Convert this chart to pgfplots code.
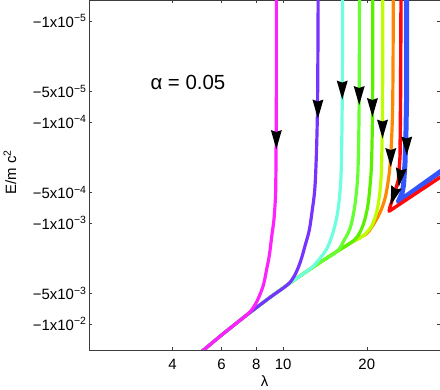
\documentclass[border=0pt]{standalone}
\usepackage{fontspec}
\setmainfont{Liberation Sans}
\usepackage{pgfplots}
\pgfplotsset{compat=1.18}

\definecolor{cmag}{RGB}{255,34,255}
\definecolor{cpur}{RGB}{119,51,255}
\definecolor{caqu}{RGB}{110,255,222}
\definecolor{cgr1}{RGB}{102,255,51}
\definecolor{cgr2}{RGB}{90,240,0}
\definecolor{cyel}{RGB}{190,255,0}
\definecolor{cora}{RGB}{255,136,0}
\definecolor{cred}{RGB}{255,10,10}
\definecolor{cblu}{RGB}{51,85,255}
\definecolor{frame}{RGB}{60,60,60}

% downward arrow head, origin in the middle
\pgfdeclareplotmark{darrow}{%
  \pgfpathmoveto{\pgfqpoint{0bp}{-9.5bp}}%
  \pgfpathlineto{\pgfqpoint{-5.5bp}{9.5bp}}%
  \pgfpathlineto{\pgfqpoint{0bp}{7.5bp}}%
  \pgfpathlineto{\pgfqpoint{5.5bp}{9.5bp}}%
  \pgfpathclose\pgfusepathqfill}

\begin{document}
\begin{tikzpicture}
\begin{axis}[
    scale only axis,
    width=351bp, height=350bp,
    xmode=log, ymode=log, y dir=reverse,
    xmin=2, xmax=36.7,
    ymin=6.19e-6, ymax=1.81e-2,
    xtick={4,6,8,10,20},
    xticklabels={4,6,8,10,20},
    ytick={1e-5,5e-5,1e-4,5e-4,1e-3,5e-3,1e-2},
    yticklabels={−1x10\textsuperscript{−5},−5x10\textsuperscript{−5},−1x10\textsuperscript{−4},
                 −5x10\textsuperscript{−4},−1x10\textsuperscript{−3},−5x10\textsuperscript{−3},
                 −1x10\textsuperscript{−2}},
    xminorticks=false, yminorticks=false,
    tick align=inside,
    major tick length=3bp,
    axis line style={frame, line width=0.6pt},
    every tick/.style={frame, line width=0.5pt},
    tick label style={font=\fontsize{15}{17}\selectfont, black},
    yticklabel style={xshift=1bp},
    xticklabel style={yshift=-6bp},
    every axis plot/.append style={line join=round, line cap=round},
]

% blue
\addplot[cblu, line width=5pt] coordinates {
    (27.85,5e-6) (27.81,6.055e-5) (27.69,1.2e-4) (27.46,2.545e-4)
    (27.13,4.205e-4) (26.80,5.047e-4) (25.98,6.153e-4)
    (36.68,3.126e-4) (38,2.92e-4)
};
% red
\addplot[cred, line width=3.4pt] coordinates {
    (26.57,5e-6) (26.46,6.055e-5) (26.35,2.206e-4) (25.98,3.752e-4)
    (25.27,4.898e-4) (24.26,6.897e-4) (24.06,7.65e-4) (38,3.32e-4)
};
% orange
\addplot[cora, line width=3.2pt, smooth, tension=0.55] coordinates {
    (24.93,5e-6) (24.87,2.432e-5) (24.77,7.607e-5) (24.56,1.507e-4)
    (24.26,2.665e-4) (23.86,3.927e-4) (23.28,5.657e-4) (22.52,7.436e-4)
    (21.61,9.339e-4) (20.73,1.121e-3) (19.89,1.285e-3) (17.72,1.542e-3)
    (15.65,1.906e-3) (13.60,2.449e-3) (11.82,3.177e-3) (10.35,4.101e-3)
    (8.99,5.428e-3) (7.75,7.385e-3) (6.85,9.62e-3) (6.00,1.288e-2) (4.9,2.05e-2)
};
% yellow green
\addplot[cyel, line width=3.2pt, smooth, tension=0.55] coordinates {
    (22.84,5e-6) (22.80,6.055e-5) (22.61,2.665e-4) (22.34,4.713e-4)
    (21.79,7.436e-4) (20.90,1.047e-3) (19.89,1.256e-3) (18.93,1.408e-3)
    (17.72,1.542e-3) (15.65,1.906e-3) (13.60,2.449e-3) (11.82,3.177e-3)
    (10.35,4.101e-3) (8.99,5.428e-3) (7.75,7.385e-3) (6.85,9.62e-3)
    (6.00,1.288e-2) (4.9,2.05e-2)
};
% green 2
\addplot[cgr2, line width=3.2pt, smooth, tension=0.55] coordinates {
    (21.02,5e-6) (20.99,6.055e-5) (20.82,2.378e-4) (20.56,4.205e-4)
    (20.14,6.945e-4) (19.41,1.047e-3) (18.46,1.376e-3) (17.43,1.585e-3)
    (15.65,1.906e-3) (13.60,2.449e-3) (11.82,3.177e-3) (10.35,4.101e-3)
    (8.99,5.428e-3) (7.75,7.385e-3) (6.85,9.62e-3) (6.00,1.288e-2) (4.9,2.05e-2)
};
% green 1
\addplot[cgr1, line width=3.2pt, smooth, tension=0.55] coordinates {
    (18.82,5e-6) (18.78,6.055e-5) (18.62,2.665e-4) (18.39,4.713e-4)
    (18.01,7.436e-4) (17.43,1.121e-3) (16.59,1.474e-3) (15.65,1.906e-3)
    (13.60,2.449e-3) (11.82,3.177e-3) (10.35,4.101e-3) (8.99,5.428e-3)
    (7.75,7.385e-3) (6.85,9.62e-3) (6.00,1.288e-2) (4.9,2.05e-2)
};
% aquamarine
\addplot[caqu, line width=3.2pt, smooth, tension=0.55] coordinates {
    (16.36,5e-6) (16.32,6.055e-5) (16.18,2.987e-4) (15.98,5.283e-4)
    (15.65,8.333e-4) (15.14,1.228e-3) (14.41,1.768e-3) (13.60,2.221e-3)
    (12.73,2.727e-3) (11.82,3.177e-3) (10.35,4.101e-3) (8.99,5.428e-3)
    (7.75,7.385e-3) (6.85,9.62e-3) (6.00,1.288e-2) (4.9,2.05e-2)
};
% purple
\addplot[cpur, line width=3.2pt, smooth, tension=0.55] coordinates {
    (13.37,5e-6) (13.32,3.839e-5) (13.27,9.554e-5) (13.15,2.378e-4)
    (12.99,4.713e-4) (12.73,7.436e-4) (12.42,1.173e-3) (12.01,1.651e-3)
    (11.53,2.432e-3) (10.97,3.348e-3) (10.35,4.101e-3) (8.99,5.428e-3)
    (7.75,7.385e-3) (6.85,9.62e-3) (6.00,1.288e-2) (4.9,2.05e-2)
};
% magenta
\addplot[cmag, line width=3.2pt, smooth, tension=0.55] coordinates {
    (9.45,5e-6) (9.45,6.055e-5) (9.41,3.752e-4) (9.37,5.921e-4)
    (9.26,9.339e-4) (9.11,1.315e-3) (8.92,2.074e-3) (8.74,2.79e-3)
    (8.49,4.111e-3) (8.15,5.527e-3) (7.92,6.45e-3) (7.56,7.69e-3)
    (6.85,9.62e-3) (6.00,1.288e-2) (4.9,2.05e-2)
};

% arrow heads
\addplot[only marks, mark=darrow, black] coordinates {
    (9.45,1.491e-4) (13.34,7.435e-5) (16.32,4.822e-5) (18.78,5.465e-5)
    (20.96,7.186e-5) (22.79,1.173e-4) (24.40,2.246e-4) (27.85,1.728e-4)
};
\addplot[only marks, mark=darrow, black, mark options={rotate=-8}] coordinates {
    (26.35,3.543e-4)
};
\addplot[only marks, mark=darrow, black, mark options={rotate=-18}] coordinates {
    (24.97,5.405e-4)
};
\end{axis}
\node[font=\fontsize{15}{17}\selectfont, rotate=90] at (-79bp,178bp) {E/m c\textsuperscript{2}};
\node[font=\fontsize{15}{17}\selectfont, inner sep=0pt] at (175.5bp,-31.5bp) {λ};
\node[anchor=base west, font=\fontsize{20.5}{24}\selectfont] at (58bp,260bp) {α = 0.05};
\pgfresetboundingbox
\path (-89bp,-40bp) rectangle (351bp,350bp);
\end{tikzpicture}
\end{document}
